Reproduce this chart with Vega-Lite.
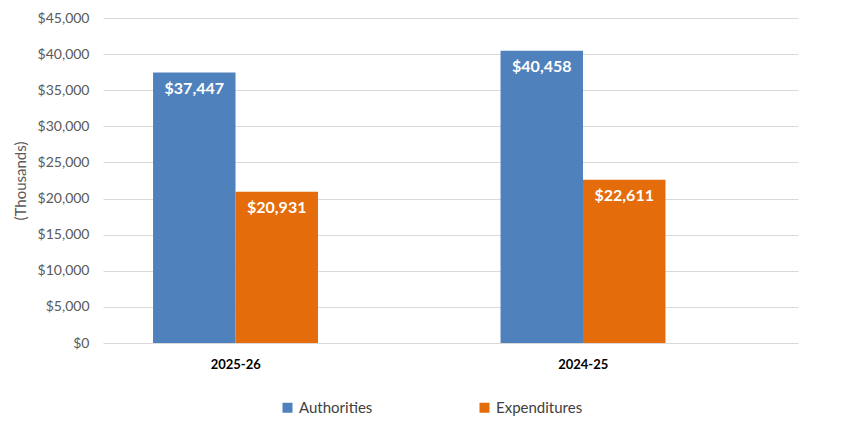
{
  "$schema": "https://vega.github.io/schema/vega-lite/v6.json",
  "width": 695,
  "height": 325,
  "autosize": {"type": "none"},
  "padding": {"left": 103, "top": 18, "right": 64, "bottom": 79},
  "background": "white",
  "config": {
    "view": {"stroke": null},
    "font": "Lato"
  },
  "data": {
    "values": [
      {"year": "2025-26", "series": "Authorities", "value": 37447},
      {"year": "2025-26", "series": "Expenditures", "value": 20931},
      {"year": "2024-25", "series": "Authorities", "value": 40458},
      {"year": "2024-25", "series": "Expenditures", "value": 22611}
    ]
  },
  "encoding": {
    "x": {
      "field": "year",
      "type": "nominal",
      "sort": ["2025-26", "2024-25"],
      "scale": {"paddingInner": 0.288, "paddingOuter": 0.144},
      "axis": {
        "title": null,
        "labelAngle": 0,
        "labelFont": "Lato",
        "labelFontSize": 13,
        "labelFontWeight": "bold",
        "labelColor": "#000000",
        "labelOffset": -41,
        "labelPadding": 15,
        "domain": false,
        "ticks": false
      }
    },
    "xOffset": {
      "field": "series",
      "type": "nominal",
      "scale": {"domain": ["Authorities", "Expenditures", "_empty"], "paddingInner": 0, "paddingOuter": 0}
    },
    "y": {
      "field": "value",
      "type": "quantitative",
      "scale": {"domain": [0, 45000], "nice": false},
      "axis": {
        "title": "(Thousands)",
        "titleFont": "Lato",
        "titleFontSize": 15,
        "titleFontWeight": "normal",
        "titleColor": "#595959",
        "titlePadding": 9,
        "values": [0, 5000, 10000, 15000, 20000, 25000, 30000, 35000, 40000, 45000],
        "format": "$,d",
        "labelFont": "Lato",
        "labelFontSize": 14,
        "labelColor": "#595959",
        "labelPadding": 14,
        "domain": false,
        "ticks": false,
        "gridColor": "#D9D9D9",
        "gridWidth": 1
      }
    }
  },
  "layer": [
    {
      "mark": {"type": "bar"},
      "encoding": {
        "color": {
          "field": "series",
          "type": "nominal",
          "scale": {"domain": ["Authorities", "Expenditures"], "range": ["#4F81BD", "#E46C0A"]},
          "legend": {
            "title": null,
            "orient": "none",
            "direction": "horizontal",
            "legendX": 177,
            "legendY": 382,
            "symbolType": "square",
            "symbolSize": 100,
            "symbolStrokeWidth": 0,
            "labelFont": "Lato",
            "labelFontSize": 15,
            "labelColor": "#404040",
            "labelOffset": 4,
            "columnPadding": 104
          }
        }
      }
    },
    {
      "mark": {"type": "text", "baseline": "top", "dy": 8, "color": "white", "font": "Lato", "fontWeight": "bold", "fontSize": 16},
      "encoding": {
        "text": {"field": "value", "type": "quantitative", "format": "$,d"}
      }
    }
  ]
}
